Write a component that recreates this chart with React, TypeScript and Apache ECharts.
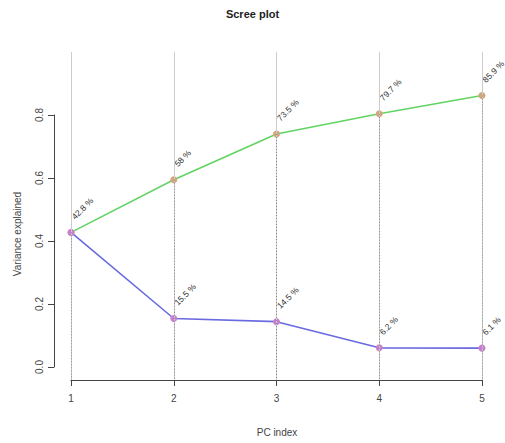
import React, { useEffect, useRef } from "react";
import * as echarts from "echarts";

const pcIndex = [1, 2, 3, 4, 5];
const individual = [0.428, 0.155, 0.145, 0.062, 0.061];
const cumulative = [0.428, 0.595, 0.74, 0.804, 0.862];
const individualLabels = ["42.8 %", "15.5 %", "14.5 %", "6.2 %", "6.1 %"];
const cumulativeLabels = ["42.8 %", "58 %", "73.5 %", "79.7 %", "85.9 %"];

const FONT = "'Liberation Sans', Arial, Helvetica, sans-serif";

export default function App() {
  const ref = useRef<HTMLDivElement>(null);
  useEffect(() => {
    if (!ref.current) return;
    const chart = echarts.init(ref.current, undefined, { renderer: "svg" });

    const labelStyle = (texts: string[], hideFirst: boolean) => ({
      show: true,
      position: [5.5, -11],
      rotate: 45,
      align: "left",
      verticalAlign: "middle",
      fontSize: 8.5,
      fontFamily: FONT,
      color: "#333",
      formatter: (p: any) => (hideFirst && p.dataIndex === 0 ? "" : texts[p.dataIndex]),
    });

    chart.setOption({
      animation: false,
      backgroundColor: "#fff",
      textStyle: { fontFamily: FONT },
      grid: [
        { left: 54.6, right: 6.6, top: 39.4, bottom: 63 },
        { left: 54, width: 1, top: 367 - 0.8 * 315, bottom: 443 - 367 },
        { left: 71, right: 23, bottom: 63, height: 1 },
      ],
      xAxis: [
        { gridIndex: 0, type: "value", min: 0.84, max: 5.16, show: false },
        { gridIndex: 1, type: "value", min: 0, max: 1, show: false },
        {
          gridIndex: 2,
          type: "value",
          min: 1,
          max: 5,
          interval: 1,
          position: "bottom",
          axisLine: { show: true, lineStyle: { color: "#444", width: 1 } },
          axisTick: { show: true, inside: false, length: 6, lineStyle: { color: "#444" } },
          axisLabel: { show: true, margin: 13, fontSize: 10, color: "#444", fontFamily: FONT },
          splitLine: { show: false },
        },
      ],
      yAxis: [
        { gridIndex: 0, type: "value", min: -0.04, max: 1.04, show: false },
        {
          gridIndex: 1,
          type: "value",
          min: 0,
          max: 0.8,
          interval: 0.2,
          position: "left",
          axisLine: { show: true, lineStyle: { color: "#444", width: 1 } },
          axisTick: { show: true, inside: false, length: 6, lineStyle: { color: "#444" } },
          axisLabel: {
            show: true,
            rotate: 90,
            margin: 10,
            fontSize: 10,
            color: "#444",
            fontFamily: FONT,
            formatter: (v: number) => v.toFixed(1),
          },
          splitLine: { show: false },
        },
        { gridIndex: 2, type: "value", min: 0, max: 1, show: false },
      ],
      series: [
        {
          type: "line",
          xAxisIndex: 0,
          yAxisIndex: 0,
          data: [],
          silent: true,
          z: 1,
          markLine: {
            silent: true,
            symbol: "none",
            label: { show: false },
            lineStyle: { color: "#cccccc", type: "solid", width: 1 },
            data: pcIndex.map((x) => [
              { coord: [x, 1.0] },
              { coord: [x, -0.04] },
            ]),
          },
        },
        {
          type: "line",
          xAxisIndex: 0,
          yAxisIndex: 0,
          data: [],
          silent: true,
          z: 1,
          markLine: {
            silent: true,
            symbol: "none",
            label: { show: false },
            lineStyle: { color: "#8a8a8a", type: [1, 2], width: 1 },
            data: pcIndex.map((x, i) => [
              { coord: [x, cumulative[i]] },
              { coord: [x, -0.04] },
            ]),
          },
        },
        {
          type: "line",
          xAxisIndex: 0,
          yAxisIndex: 0,
          data: pcIndex.map((x, i) => [x, cumulative[i]]),
          z: 3,
          lineStyle: { color: "#62d462", width: 1.6 },
          symbol: "circle",
          symbolSize: 7,
          itemStyle: { color: "#d2a57a", borderWidth: 0 },
          label: labelStyle(cumulativeLabels, true),
        },
        {
          type: "line",
          xAxisIndex: 0,
          yAxisIndex: 0,
          data: pcIndex.map((x, i) => [x, individual[i]]),
          z: 3,
          lineStyle: { color: "#6a6ae0", width: 1.6 },
          symbol: "circle",
          symbolSize: 7,
          itemStyle: { color: "#c97fcf", borderWidth: 0 },
          label: labelStyle(individualLabels, false),
        },
      ],
      graphic: [
        {
          type: "text",
          left: "center",
          top: 8,
          style: { text: "Scree plot", font: `bold 11px ${FONT}`, fill: "#222" },
        },
        {
          type: "text",
          x: 277,
          y: 432,
          style: {
            text: "PC index",
            font: `10px ${FONT}`,
            fill: "#444",
            align: "center",
            verticalAlign: "middle",
          },
        },
        {
          type: "text",
          x: 17,
          y: 234,
          rotation: Math.PI / 2,
          style: {
            text: "Variance explained",
            font: `10px ${FONT}`,
            fill: "#444",
            align: "center",
            verticalAlign: "middle",
          },
        },
      ],
    });
    return () => chart.dispose();
  }, []);
  return (
    <div
      ref={ref}
      style={{ position: "absolute", left: 0, top: 0, width: 505, height: 443 }}
    />
  );
}
